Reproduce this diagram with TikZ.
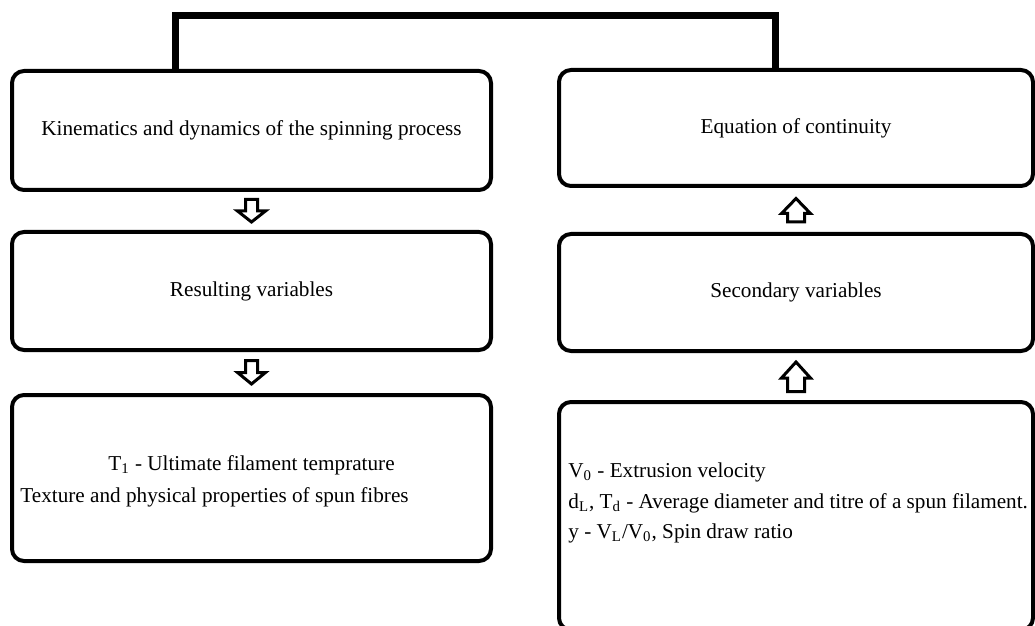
\documentclass[tikz,border=0pt]{standalone}
\usepackage{fontspec}
\setmainfont{Liberation Serif}
\usetikzlibrary{calc}

\tikzset{
    box/.style={draw, line width=2pt, rounded corners=6pt, minimum width=239.5pt, inner sep=0pt, font=\fontsize{10.6}{12}\selectfont},
    txt/.style={inner sep=0pt, font=\fontsize{10.6}{12}\selectfont},
    link/.style={draw, line width=3.5pt, line join=miter},
    blockarr/.style={draw, line width=1.5pt, fill=white, line join=miter}
}

\begin{document}
\begin{tikzpicture}[x=0.5pt, y=-0.5pt]
    \clip (0,0) rectangle (1035,626);
    \useasboundingbox (0,0) rectangle (1035,626);

    % left column
    \node[box, minimum height=59.5pt] (kin) at (251.5,130.5) {Kinematics and dynamics of the spinning process};
    \node[box, minimum height=59pt] (res) at (251.5,291) {Resulting variables};
    \node[box, minimum height=83pt] (prop) at (251.5,478) {};
    \node[txt, anchor=base] (tone) at (251.5,470) {T\textsubscript{1} - Ultimate filament temprature};
    \node[txt, anchor=base west] (tex) at (20,502) {Texture and physical properties of spun fibres};

    % right column
    \node[box, minimum width=237pt, minimum height=58pt] (eq) at (796,128) {Equation of continuity};
    \node[box, minimum width=237pt, minimum height=58.5pt] (sec) at (796,292.5) {Secondary variables};
    \node[box, minimum width=237pt, minimum height=114pt] (prim) at (796,516) {};
    \node[txt, anchor=base west] (vzero) at (568,477) {V\textsubscript{0} - Extrusion velocity};
    \node[txt, anchor=base west] (diam) at (568,508) {d\textsubscript{L}, T\textsubscript{d} - Average diameter and titre of a spun filament.};
    \node[txt, anchor=base west] (ratio) at (568,538) {y - V\textsubscript{L}/V\textsubscript{0}, Spin draw ratio};

    % top connector
    \coordinate (cl) at (175,16);
    \coordinate (cr) at (775.5,16);
    \draw[link] (cl |- kin.north) -- (cl) -- (cr) -- (cr |- eq.north);

    % block arrows
    \coordinate (ma) at ($(kin.south)!0.5!(res.north)$);
    \coordinate (mb) at ($(res.south)!0.5!(prop.north)$);
    \coordinate (mc) at ($(eq.south)!0.5!(sec.north)$);
    \coordinate (md) at ($(sec.south)!0.5!(prim.north)$);
    \draw[blockarr, shift={(ma)}] (-6,-11.5) -- (6,-11.5) -- (6,0) -- (14,0) -- (0,11) -- (-14,0) -- (-6,0) -- cycle;
    \draw[blockarr, shift={(mb)}] (-6,-12) -- (6,-12) -- (6,0) -- (14,0) -- (0,11.5) -- (-14,0) -- (-6,0) -- cycle;
    \draw[blockarr, shift={(mc)}] (-8.5,12) -- (8.5,12) -- (8.5,3.5) -- (14.5,3.5) -- (0,-11.5) -- (-14.5,3.5) -- (-8.5,3.5) -- cycle;
    \draw[blockarr, shift={(md)}] (-8.5,15) -- (8.5,15) -- (8.5,1.5) -- (14.5,1.5) -- (0,-14.5) -- (-14.5,1.5) -- (-8.5,1.5) -- cycle;
\end{tikzpicture}
\end{document}
